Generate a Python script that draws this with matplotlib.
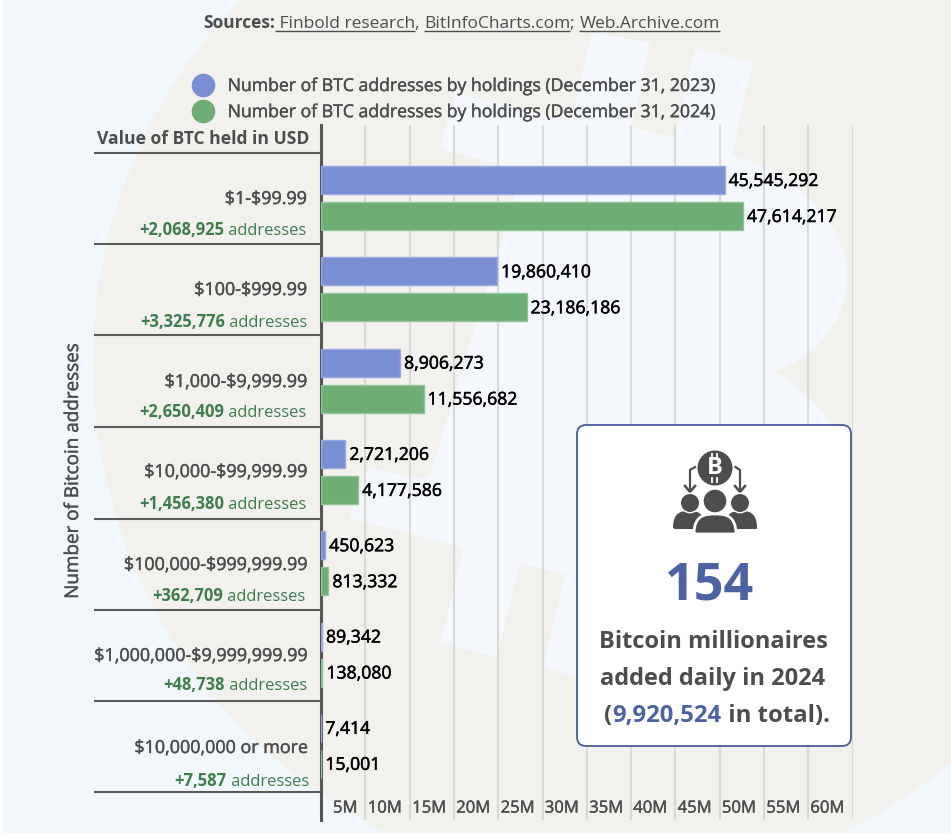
import matplotlib
matplotlib.use("Agg")
import matplotlib.pyplot as plt
import matplotlib.patheffects as pe
from matplotlib.lines import Line2D
from matplotlib.patches import Circle, FancyBboxPatch, PathPatch, Rectangle
from matplotlib.path import Path
from matplotlib.transforms import ScaledTranslation

plt.rcParams['font.family'] = ['Open Sans', 'DejaVu Sans']
plt.rcParams['text.parse_math'] = False

# data
categories = ['$1-$99.99', '$100-$999.99', '$1,000-$9,999.99', '$10,000-$99,999.99',
              '$100,000-$999,999.99', '$1,000,000-$9,999,999.99', '$10,000,000 or more']
addr_2023 = [45545292, 19860410, 8906273, 2721206, 450623, 89342, 7414]
addr_2024 = [47614217, 23186186, 11556682, 4177586, 813332, 138080, 15001]
added = ['+2,068,925', '+3,325,776', '+2,650,409', '+1,456,380', '+362,709', '+48,738', '+7,587']
xtick_vals = [5e6, 10e6, 15e6, 20e6, 25e6, 30e6, 35e6, 40e6, 45e6, 50e6, 55e6, 60e6]
xtick_labels = ['5M', '10M', '15M', '20M', '25M', '30M', '35M', '40M', '45M', '50M', '55M', '60M']
legend_labels = ['Number of BTC addresses by holdings (December 31, 2023)',
                 'Number of BTC addresses by holdings (December 31, 2024)']

W, H = 951, 834
BLUE = '#7a8ed2'
GREEN = '#6eae75'
DARK = '#4d4d4d'
DGREEN = '#3f7d4c'
INDIGO = '#4d62a3'
PALE = '#f4f8fc'
BEIGE = '#f2f1ee'
medium = [pe.withStroke(linewidth=0.35, foreground='black')]
medium_dark = [pe.withStroke(linewidth=0.3, foreground=DARK)]

fig = plt.figure(figsize=(W / 100, H / 100), dpi=100, facecolor='white')


def px_axes(z):
    a = fig.add_axes([0, 0, 1, 1], zorder=z)
    a.set_xlim(0, W)
    a.set_ylim(H, 0)
    a.axis('off')
    return a


# background: circle and the big pale bitcoin sign
bg = px_axes(0)
panel = Rectangle((3, 0), W - 3, H - 1, fc='#f1f7fb', ec='none')
bg.add_patch(panel)
disc = Circle((615, 363), 522, fc=BEIGE, ec='none')
bg.add_patch(disc)
disc.set_clip_path(panel)

M, L, C = Path.MOVETO, Path.LINETO, Path.CURVE4
outer = [
    ((455, 92), M), ((570, 121), L), ((592, 32), L), ((650, 43), L), ((632, 127), L), ((675, 138), L),
    ((695, 48), L), ((753, 62), L), ((732, 155), L),
    ((800, 175), C), ((847, 225), C), ((847, 277), C),
    ((847, 320), C), ((815, 358), C), ((773, 372), C),
    ((815, 395), C), ((860, 440), C), ((850, 510), C),
    ((835, 640), C), ((730, 700), C), ((577, 677), C),
    ((543, 667), L), ((565, 575), L), ((520, 563), L), ((497, 657), L), ((440, 643), L), ((463, 548), L),
    ((348, 518), L), ((368, 467), L), ((415, 478), L),
    ((428, 481), C), ((431, 472), C), ((434, 462), C),
    ((522, 172), L), ((440, 148), L), ((455, 92), L),
]
hole_top = [
    ((613, 198), M), ((680, 205), C), ((733, 225), C), ((733, 273), C),
    ((733, 318), C), ((680, 335), C), ((581, 317), C), ((613, 198), L),
]
hole_low = [
    ((567, 368), M), ((680, 385), C), ((790, 420), C), ((785, 480), C),
    ((780, 545), C), ((670, 535), C), ((538, 493), C), ((567, 368), L),
]
verts, codes = [], []
for part in (outer, hole_top, hole_low):
    verts += [p[0] for p in part]
    codes += [p[1] for p in part]
bg.add_patch(PathPatch(Path(verts, codes), fc=PALE, ec='none'))

# main chart
ax = fig.add_axes([321.2 / W, 1 - 820 / H, (852.6 - 321.2) / W, (820 - 125) / H], zorder=1)
ax.patch.set_visible(False)
step = 91.3
ax.set_xlim(0, 60e6)
ax.set_ylim((820 - 198) / step, (125 - 198) / step)
off = 18 / step
bar_h = 28 / step
ypos = list(range(len(categories)))
ax.barh([y - off for y in ypos], addr_2023, height=bar_h, color=BLUE, edgecolor='#9aa9e0', linewidth=1, zorder=3)
ax.barh([y + off for y in ypos], addr_2024, height=bar_h, color=GREEN, edgecolor='#8fc597', linewidth=1, zorder=3)
for y, a, b in zip(ypos, addr_2023, addr_2024):
    ax.annotate(f'{a:,}', (a, y - off), xytext=(4, -1), textcoords='offset pixels', va='center',
                fontsize=12.7, color='black', zorder=4, path_effects=medium)
    ax.annotate(f'{b:,}', (b, y + off), xytext=(4, -1), textcoords='offset pixels', va='center',
                fontsize=12.7, color='black', zorder=4, path_effects=medium)

for s in ('top', 'right', 'bottom'):
    ax.spines[s].set_visible(False)
ax.spines['left'].set_linewidth(2.2)
ax.spines['left'].set_color('#555555')
ax.set_yticks([])
ax.set_xticks(xtick_vals)
ax.set_xticklabels(xtick_labels, fontsize=12, color=DARK, path_effects=medium_dark)
ax.tick_params(axis='x', length=0, pad=-14)
shift = ScaledTranslation(-8 / 100, 0, fig.dpi_scale_trans)
for lbl in ax.get_xticklabels():
    lbl.set_ha('right')
    lbl.set_transform(lbl.get_transform() + shift)
ax.grid(axis='x', color='#d9d9d6', linewidth=1.5, zorder=1)
ax.set_axisbelow(True)

# overlay in pixel coordinates: labels, separators, callout box
ov = px_axes(2)
renderer = fig.canvas.get_renderer()


def runs(x, y, parts, ha='left', **kw):
    """parts = (text, weight, colour, underline) placed one after another on a baseline"""
    arts = [ov.text(0, y, t, fontweight=w, color=c, va='baseline', ha='left', **kw) for t, w, c, u in parts]
    widths = [a.get_window_extent(renderer).width for a in arts]
    total = sum(widths)
    cur = x - total if ha == 'right' else x - total / 2 if ha == 'center' else x
    for a, w, p in zip(arts, widths, parts):
        a.set_x(cur)
        if p[3]:
            ov.plot([cur, cur + w], [y + 2.5, y + 2.5], color=p[2], lw=1, solid_capstyle='butt')
        cur += w


label_y = [198, 289, 381, 471, 564, 655, 747]
sub_y = [230, 322, 412, 504, 596, 685, 781]
sub_x = [306, 307, 306, 306, 305, 307, 309]
sep_y = [153, 244, 335, 427, 519, 610, 701, 792]
for y in sep_y:
    ov.plot([94, 320], [y, y], color='#5a5a5a', lw=1.5, solid_capstyle='butt')
for name, plus, ly, sy, sx in zip(categories, added, label_y, sub_y, sub_x):
    ov.text(307, ly + 6, name, ha='right', va='baseline', fontsize=12.9, color=DARK, path_effects=medium_dark)
    runs(sx, sy + 5, [(plus, 'bold', DGREEN, False), (' addresses', 'normal', DGREEN, False)],
         ha='right', fontsize=11.9)

ov.text(309, 144, 'Value of BTC held in USD', ha='right', va='baseline', fontsize=12.6,
        fontweight='bold', color=DARK)
ov.text(73, 471, 'Number of Bitcoin addresses', rotation=90, ha='center', va='center',
        fontsize=13.6, color=DARK, path_effects=medium_dark)

runs(203, 28, [('Sources:', 'bold', DARK, False), (' Finbold research', 'normal', DARK, True),
               (', ', 'normal', DARK, False), ('BitInfoCharts.com', 'normal', DARK, True),
               ('; ', 'normal', DARK, False), ('Web.Archive.com', 'normal', DARK, True)],
     fontsize=12.55)

handles = [Line2D([], [], marker='o', ls='', ms=16, color=BLUE),
           Line2D([], [], marker='o', ls='', ms=16, color=GREEN)]
leg = ov.legend(handles, legend_labels, loc='upper left', bbox_to_anchor=(185 / W, 1 - 77 / H), frameon=False,
                fontsize=12.7, labelcolor=DARK, handletextpad=0.42, labelspacing=0.46, borderpad=0, borderaxespad=0)
for t in leg.get_texts():
    t.set_path_effects(medium_dark)

# callout
ov.add_patch(FancyBboxPatch((585, 433), 258, 305, boxstyle='round,pad=8,rounding_size=9',
                            fc='white', ec='#4a5a9c', lw=1.3, zorder=5))
ICON = '#4d4d4d'
ov.add_patch(Circle((715, 468), 17.5, fc=ICON, ec='none', zorder=6))
ov.text(715, 468, 'B', ha='center', va='center', fontsize=17, fontweight='bold', color='white', zorder=7)
for bx in (712, 717):
    ov.plot([bx, bx], [454, 458], color='white', lw=1.3, zorder=7)
    ov.plot([bx, bx], [478, 482], color='white', lw=1.3, zorder=7)
for x0, x1 in ((695, 690), (735.5, 740)):
    ov.plot([x0, x1, x1], [467, 470, 490], color=ICON, lw=1.6, zorder=6)
    ov.plot([x1 - 5, x1, x1 + 5], [486, 492, 486], color=ICON, lw=1.8, zorder=6)


def body(cx, top, bottom, hw, **kw):
    p = Path([(cx - hw, bottom), (cx - hw, top), (cx - hw * 0.4, top), (cx, top), (cx + hw * 0.4, top),
              (cx + hw, top), (cx + hw, bottom), (cx - hw, bottom)],
             [M, C, C, C, C, C, C, L])
    ov.add_patch(PathPatch(p, fc=ICON, joinstyle='round', **kw))


body(689, 512, 528, 15, ec=ICON, lw=1.5, zorder=6)
body(741, 512, 528, 15, ec=ICON, lw=1.5, zorder=6)
body(715, 514, 534, 21, ec='white', lw=2, zorder=7)
ov.add_patch(Circle((690, 503), 9.7, fc=ICON, ec='white', lw=1, zorder=8))
ov.add_patch(Circle((740, 503), 9.7, fc=ICON, ec='white', lw=1, zorder=8))
ov.add_patch(Circle((715, 501), 12, fc=ICON, ec='white', lw=1, zorder=8))

ov.text(710, 600, '154', ha='center', va='baseline', fontsize=37.5, fontweight='bold', color=INDIGO, zorder=7)
ov.text(713, 648, 'Bitcoin millionaires', ha='center', va='baseline', fontsize=17, fontweight='bold',
        color=DARK, zorder=7)
ov.text(713, 685, 'added daily in 2024', ha='center', va='baseline', fontsize=17, fontweight='bold',
        color=DARK, zorder=7)
box_line = [('(', 'bold', DARK, False), ('9,920,524', 'bold', INDIGO, False), (' in total).', 'bold', DARK, False)]
runs(717, 722, box_line, ha='center', fontsize=17.2, zorder=7)

fig.savefig('out.png', dpi=100)
